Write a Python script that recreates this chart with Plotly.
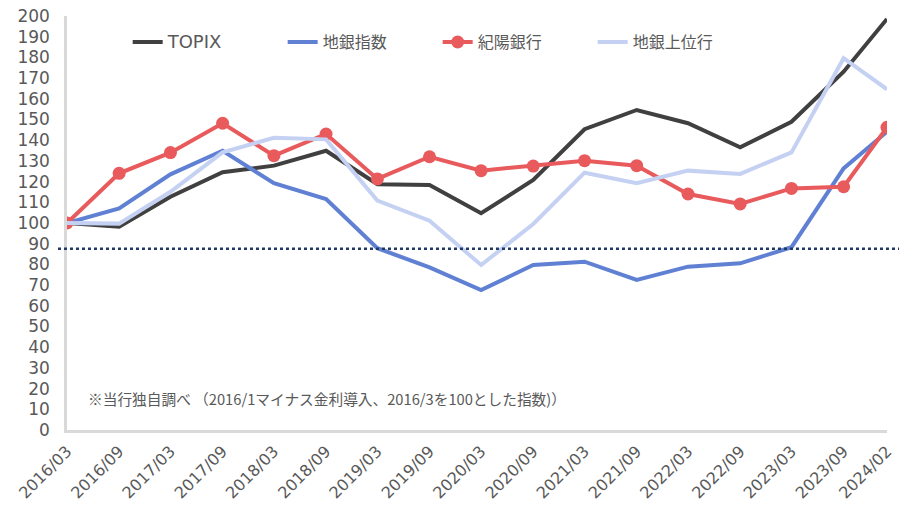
import plotly.graph_objects as go

dates = ["2016-03-01", "2016-09-01", "2017-03-01", "2017-09-01", "2018-03-01", "2018-09-01",
         "2019-03-01", "2019-09-01", "2020-03-01", "2020-09-01", "2021-03-01", "2021-09-01",
         "2022-03-01", "2022-09-01", "2023-03-01", "2023-09-01", "2024-02-01"]
tick_labels = ["2016/03", "2016/09", "2017/03", "2017/09", "2018/03", "2018/09",
               "2019/03", "2019/09", "2020/03", "2020/09", "2021/03", "2021/09",
               "2022/03", "2022/09", "2023/03", "2023/09", "2024/02"]

topix = [100, 98.2, 112.7, 124.5, 127.7, 134.9, 118.7, 118.4, 104.7, 120.8,
         145.3, 154.6, 148.2, 136.6, 148.9, 173.1, 198.6]
chigin = [100, 107.1, 123.5, 134.9, 119.2, 111.6, 87.8, 78.6, 67.6, 79.7,
          81.3, 72.5, 78.9, 80.5, 88.3, 126.4, 144.1]
kiyo = [100, 124.0, 134.0, 148.2, 132.5, 143.0, 121.3, 132.0, 125.3, 127.5,
        130.1, 127.7, 114.0, 109.2, 116.7, 117.5, 146.2]
chigin_top = [100, 99.7, 115.1, 134.1, 141.2, 140.4, 110.8, 101.1, 79.7, 99.5,
              124.3, 119.2, 125.3, 123.7, 134.1, 179.6, 164.6]
ref_level = 87.5

series_names = ["TOPIX", "地銀指数", "紀陽銀行", "地銀上位行"]
note = "※当行独自調べ （2016/1マイナス金利導入、2016/3を100とした指数)）"

FONT = "DejaVu Sans, Noto Sans CJK JP"
GRAY = "#595959"

fig = go.Figure()
fig.add_trace(go.Scatter(x=dates, y=topix, name='<span style="font-size:18px">' + series_names[0] + '</span>',
                         mode="lines", line=dict(color="#404040", width=4)))
fig.add_trace(go.Scatter(x=dates, y=chigin, name=series_names[1], mode="lines",
                         line=dict(color="#5F80D3", width=4)))
fig.add_trace(go.Scatter(x=dates, y=kiyo, name=series_names[2], mode="lines+markers",
                         line=dict(color="#E85A5C", width=4),
                         marker=dict(size=13, color="#E85A5C")))
fig.add_trace(go.Scatter(x=dates, y=chigin_top, name=series_names[3], mode="lines",
                         line=dict(color="#C5D1F2", width=4)))

fig.add_shape(type="line", xref="paper", yref="y", x0=-0.011, x1=1.015,
              y0=ref_level, y1=ref_level,
              line=dict(color="#203864", width=2.5, dash="dot"))

fig.add_annotation(text=note, xref="paper", yref="paper", x=0.023, y=0.077,
                   xanchor="left", yanchor="middle", showarrow=False,
                   font=dict(family="Noto Sans CJK JP", size=14.7, color=GRAY))

fig.update_layout(
    width=899, height=512,
    margin=dict(l=67, r=12, t=16, b=82),
    paper_bgcolor="white", plot_bgcolor="white",
    font=dict(family=FONT, color=GRAY),
    showlegend=True,
    legend=dict(orientation="h", x=0.074, y=0.937, xanchor="left", yanchor="middle",
                font=dict(family=FONT, size=16, color=GRAY),
                entrywidth=110, entrywidthmode="pixels",
                bgcolor="rgba(0,0,0,0)"),
)
fig.update_xaxes(type="date", range=["2016-03-01", "2024-02-01"],
                 tickvals=dates, ticktext=tick_labels, tickangle=-45,
                 tickfont=dict(family=FONT, size=16, color=GRAY),
                 ticks="outside", ticklen=3, tickcolor="rgba(0,0,0,0)",
                 showgrid=False, zeroline=False, showline=True, automargin=False,
                 linecolor="#D9D9D9", linewidth=2.5)
fig.update_yaxes(range=[0, 200], dtick=10, tick0=0,
                 tickfont=dict(family=FONT, size=17, color=GRAY),
                 ticks="outside", ticklen=11, tickcolor="rgba(0,0,0,0)",
                 showgrid=False, zeroline=False, showline=True, automargin=False,
                 linecolor="#D9D9D9", linewidth=2.5)

fig.write_html("out.html", config={"displayModeBar": False},
               post_script="document.body.style.margin='0px';")
